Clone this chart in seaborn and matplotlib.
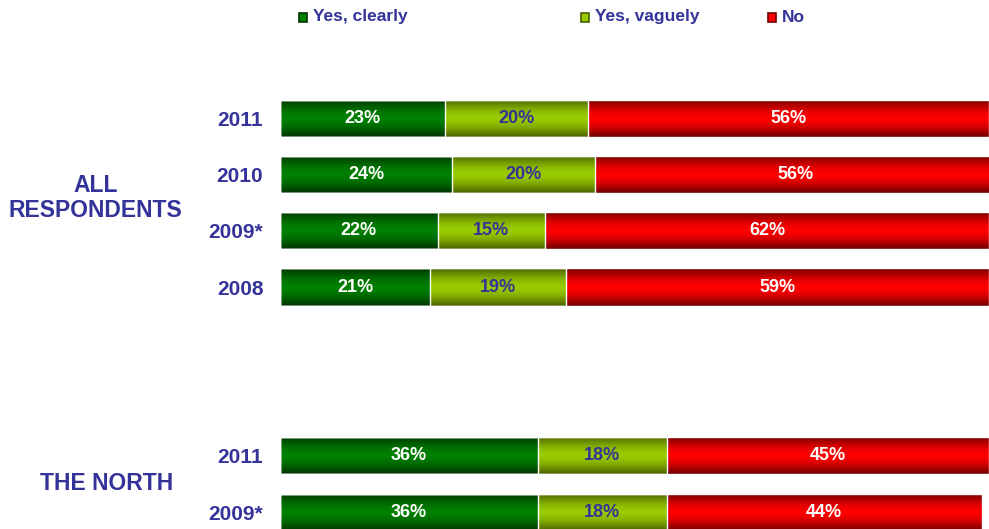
import numpy as np
import pandas as pd
import matplotlib
matplotlib.use("Agg")
import matplotlib.pyplot as plt
import seaborn as sns
from matplotlib.colors import LinearSegmentedColormap
from matplotlib.patches import Rectangle

# data
rows = ["All 2011", "All 2010", "All 2009*", "All 2008", "North 2011", "North 2009*"]
years = ["2011", "2010", "2009*", "2008", "2011", "2009*"]
yes_clearly = [23, 24, 22, 21, 36, 36]
yes_vaguely = [20, 20, 15, 19, 18, 18]
no = [56, 56, 62, 59, 45, 44]
series = ["Yes, clearly", "Yes, vaguely", "No"]
groups = ["ALL\nRESPONDENTS", "THE NORTH"]

# empty slots between the two groups
order = rows[:4] + ["gap1", "gap2"] + rows[4:]

sns.set_theme(style="white")
plt.rcParams['font.family'] = ['Liberation Sans', 'DejaVu Sans']
navy = "#333399"

df = pd.DataFrame({"row": rows, "clear": yes_clearly, "vague": yes_vaguely, "no": no})
df["c1"] = df["clear"]
df["c2"] = df["clear"] + df["vague"]
df["c3"] = df["c2"] + df["no"]

fig = plt.figure(figsize=(9.89, 5.29), dpi=100)
ax = fig.add_axes([280/989, 0, 709/989, 1])

# (mid colour, edge colour) for the shaded bars
shades = {"No": ("#ff0000", "#6e0000"),
          "Yes, vaguely": ("#99cc00", "#4a5f00"),
          "Yes, clearly": ("#008000", "#003300")}

bar_groups = []
for col, name in [("c3", "No"), ("c2", "Yes, vaguely"), ("c1", "Yes, clearly")]:
    n0 = len(ax.patches)
    sns.barplot(data=df, x=col, y="row", order=order, orient="h", width=0.66,
                color=shades[name][0], edgecolor="white", linewidth=1.0,
                saturation=1, ax=ax)
    bar_groups.append((name, ax.patches[n0:]))

ax.set_xlim(0, 99)
ax.set_ylim(7.3, -2.1)

# vertical gradient on each bar
grad = np.abs(np.linspace(-1, 1, 64))[:, None] ** 1.6
for name, patches in bar_groups:
    mid, edge = shades[name]
    cmap = LinearSegmentedColormap.from_list(name, [mid, edge])
    for p in patches:
        if p.get_width() <= 0 or np.isnan(p.get_width()):
            continue
        x0, y0 = p.get_x(), p.get_y()
        w, h = p.get_width(), p.get_height()
        im = ax.imshow(grad, cmap=cmap, vmin=0, vmax=1, aspect="auto",
                       extent=(x0, x0 + w, y0 + h, y0), zorder=p.get_zorder() + 0.1,
                       interpolation="bilinear")
        im.set_clip_path(p)
        ax.add_patch(Rectangle((x0, y0), w, h, fill=False, edgecolor="white",
                               linewidth=1.0, zorder=p.get_zorder() + 0.2))
ax.set_xlim(0, 99)
ax.set_ylim(7.3, -2.1)

# value labels
for i, r in df.iterrows():
    y = order.index(r["row"])
    ax.text(r["clear"] / 2, y, f"{r['clear']}%", ha="center", va="center",
            color="white", fontsize=13, fontweight="bold", zorder=10)
    ax.text(r["c1"] + r["vague"] / 2, y, f"{r['vague']}%", ha="center", va="center",
            color=navy, fontsize=13, fontweight="bold", zorder=10)
    ax.text(r["c2"] + r["no"] / 2, y, f"{r['no']}%", ha="center", va="center",
            color="white", fontsize=13, fontweight="bold", zorder=10)

# year tick labels
ax.set_yticks([order.index(r) for r in rows])
ax.set_yticklabels(years, color=navy, fontsize=15, fontweight="bold")
ax.tick_params(axis="y", length=0, pad=12)
ax.set_xticks([])
ax.set_xlabel("")
ax.set_ylabel("")
sns.despine(ax=ax, left=True, bottom=True)

# group labels
ax.text(-0.26, 1.42, groups[0], transform=ax.get_yaxis_transform(), ha="center",
        va="center", color=navy, fontsize=16.5, fontweight="bold", linespacing=1.15)
ax.text(-0.245, 6.5, groups[1], transform=ax.get_yaxis_transform(), ha="center",
        va="center", color=navy, fontsize=16.5, fontweight="bold")

# legend across the top
leg_x = [299, 581, 768]
for name, lx in zip(series, leg_x):
    mid, edge = shades[name]
    fig.patches.append(Rectangle((lx / 989, 1 - 22 / 529), 8 / 989, 9 / 529,
                                 transform=fig.transFigure, facecolor=mid,
                                 edgecolor=edge, linewidth=1.2))
    fig.text((lx + 14) / 989, 1 - 17 / 529, name, ha="left", va="center",
             color=navy, fontsize=12.5, fontweight="bold")

fig.savefig("out.png", dpi=100)
